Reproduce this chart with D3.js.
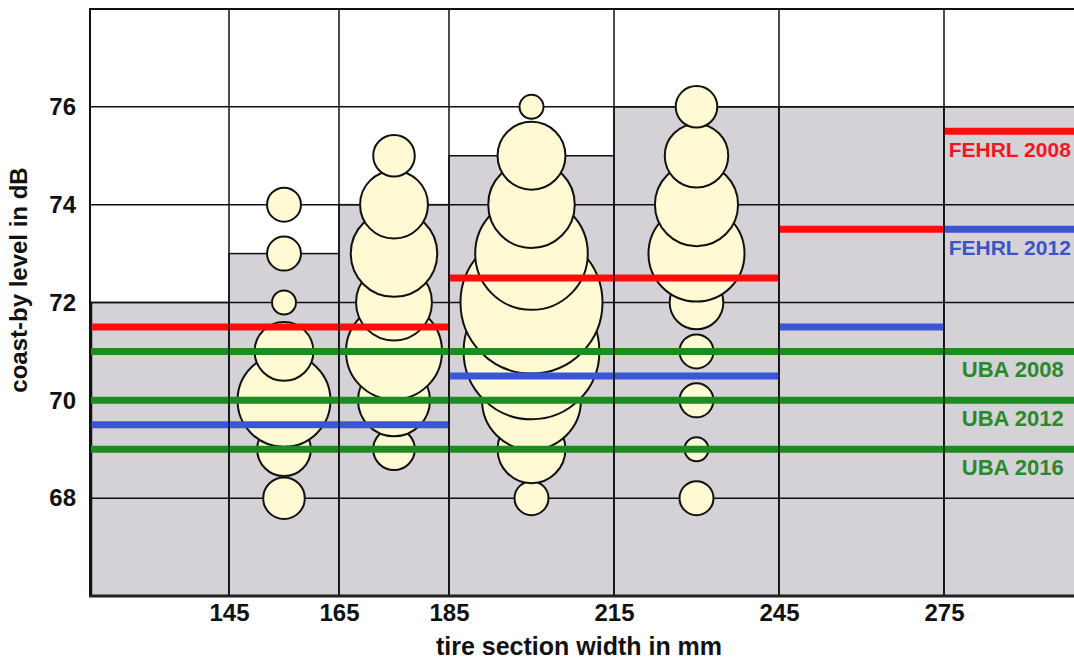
<!DOCTYPE html>
<html><head><meta charset="utf-8">
<script src="https://cdn.jsdelivr.net/npm/d3@7"></script>
<style>body{margin:0;background:#fff} svg{display:block}</style>
</head><body>
<svg id="chart" width="1074" height="660"></svg>
<script>
// ---- data ----
const bandEdges = [120, 145, 165, 185, 215, 245, 275, 300];
const tickWidths = [145, 165, 185, 215, 245, 275];
const limitLevels = [72, 73, 74, 75, 76, 76, 76];
const fehrl2008 = [71.5, 71.5, 71.5, 72.5, 72.5, 73.5, 75.5];
const fehrl2012 = [69.5, 69.5, 69.5, 70.5, 70.5, 71.5, 73.5];
const ubaLevels = [71, 70, 69];
const ubaNames = ["UBA 2008", "UBA 2012", "UBA 2016"];
const yTicks = [68, 70, 72, 74, 76];
const levels = [68, 69, 70, 71, 72, 73, 74, 75, 76];
const bubbleWidths = [155, 175, 200, 230];
const counts155 = [3, 5, 15, 6, 1, 2, 2, 0, 0];
const counts175 = [0, 3, 9, 16, 10, 13, 8, 3, 0];
const counts200 = [2, 8, 17, 32, 35, 22, 13, 8, 1];
const counts230 = [2, 1, 2, 2, 5, 16, 12, 7, 3];

// ---- scales ----
const svg = d3.select("#chart");
const x = d3.scaleLinear().domain([120, 300]).range([91.5, 1081.5]);
const y = d3.scaleLinear().domain([66, 78]).range([596, 9]);
const r = d3.scaleSqrt().domain([0, 36]).range([0, 72]);

const FONT = "'Liberation Sans', Arial, Helvetica, sans-serif";
const GRAY = "#d4d1d7", CREAM = "#fff9d4";
const RED = "#ff0d0d", BLUE = "#3a55d6", GREEN = "#1f8a1f";

const bands = d3.range(bandEdges.length - 1).map(i => ({x0: bandEdges[i], x1: bandEdges[i + 1], i}));

// gray limit areas
svg.append("g").selectAll("rect").data(bands).join("rect")
  .attr("x", d => x(d.x0)).attr("width", d => x(d.x1) - x(d.x0))
  .attr("y", d => y(limitLevels[d.i])).attr("height", d => y(66) - y(limitLevels[d.i]))
  .attr("fill", GRAY).attr("stroke", "#111").attr("stroke-width", 1.5);

// horizontal grid
svg.append("g").selectAll("line").data(yTicks).join("line")
  .attr("x1", x(120) - 1.5).attr("x2", x(300)).attr("y1", d => y(d)).attr("y2", d => y(d))
  .attr("stroke", "#111").attr("stroke-width", 1.5);

// bubbles (drawn from lowest level upward within each width class)
const bubbleSets = [counts155, counts175, counts200, counts230];
const bubbles = [];
bubbleWidths.forEach((w, bi) => {
  levels.forEach((lv, li) => {
    const c = bubbleSets[bi][li];
    if (c > 0) bubbles.push({w, lv, c});
  });
});
svg.append("g").selectAll("circle").data(bubbles).join("circle")
  .attr("cx", d => x(d.w)).attr("cy", d => y(d.lv)).attr("r", d => r(d.c))
  .attr("fill", CREAM).attr("stroke", "#111").attr("stroke-width", 2);

// colored limit lines
function stepLine(vals, color) {
  svg.append("g").selectAll("line").data(bands).join("line")
    .attr("x1", d => x(d.x0)).attr("x2", d => x(d.x1))
    .attr("y1", d => y(vals[d.i])).attr("y2", d => y(vals[d.i]))
    .attr("stroke", color).attr("stroke-width", 7);
}
stepLine(fehrl2008, RED);
stepLine(fehrl2012, BLUE);
svg.append("g").selectAll("line").data(ubaLevels).join("line")
  .attr("x1", x(120) - 1.5).attr("x2", x(300)).attr("y1", d => y(d)).attr("y2", d => y(d))
  .attr("stroke", GREEN).attr("stroke-width", 7);

// vertical grid on top
svg.append("g").selectAll("line").data(tickWidths).join("line")
  .attr("x1", d => x(d)).attr("x2", d => x(d)).attr("y1", y(78)).attr("y2", y(66))
  .attr("stroke", "#111").attr("stroke-width", 1.5);

// frame
svg.append("line").attr("x1", x(120) - 1.5).attr("x2", x(120) - 1.5).attr("y1", y(78)).attr("y2", y(66))
  .attr("stroke", "#111").attr("stroke-width", 2);
svg.append("line").attr("x1", x(120) - 2.5).attr("x2", x(300)).attr("y1", y(78)).attr("y2", y(78))
  .attr("stroke", "#111").attr("stroke-width", 2);
svg.append("line").attr("x1", x(120) - 2.5).attr("x2", x(300)).attr("y1", y(66)).attr("y2", y(66))
  .attr("stroke", "#222").attr("stroke-width", 3);

// labels for limit lines (centred in last band, kept inside the window)
const lastMid = x((bandEdges[6] + bandEdges[7]) / 2);
const lineLabels = [
  {t: "FEHRL 2008", v: fehrl2008[6], c: "#f01820", dx: -3, fs: 21},
  {t: "FEHRL 2012", v: fehrl2012[6], c: "#3a55c8", dx: -3, fs: 21},
  ...ubaLevels.map((v, i) => ({t: ubaNames[i], v, c: "#2a8a2a", dx: 0, fs: 22}))
];
svg.append("g").selectAll("text").data(lineLabels).join("text")
  .attr("x", d => lastMid + d.dx).attr("y", d => y(d.v) + 26)
  .attr("text-anchor", "middle").attr("fill", d => d.c)
  .style("font-family", FONT).style("font-weight", "bold").style("font-size", d => d.fs + "px")
  .text(d => d.t);

// axes (labels only)
const xAxis = svg.append("g").attr("transform", `translate(0,${y(66)})`)
  .call(d3.axisBottom(x).tickValues(tickWidths).tickSize(0).tickPadding(8));
const yAxis = svg.append("g").attr("transform", `translate(${x(120) - 1.5},0)`)
  .call(d3.axisLeft(y).tickValues(yTicks).tickSize(0).tickPadding(14));
[xAxis, yAxis].forEach(a => {
  a.select(".domain").remove();
  a.selectAll("text").style("font-family", FONT).style("font-weight", "bold")
    .style("font-size", "24px").attr("fill", "#111");
});

// axis titles
svg.append("text").attr("x", 579).attr("y", 655).attr("text-anchor", "middle")
  .style("font-family", FONT).style("font-weight", "bold").style("font-size", "25px").attr("fill", "#111")
  .text("tire section width in mm");
svg.append("text").attr("transform", "translate(27,280) rotate(-90)").attr("text-anchor", "middle")
  .style("font-family", FONT).style("font-weight", "bold").style("font-size", "24px").attr("fill", "#111")
  .text("coast-by level in dB");
</script>
</body></html>
